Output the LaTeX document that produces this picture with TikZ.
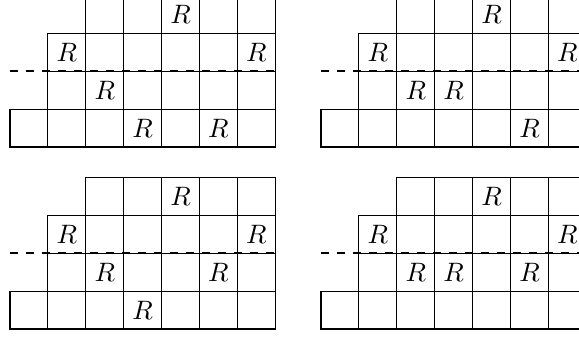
\documentclass[tikz,border=0pt]{standalone}
\tikzset{
  cell/.style={draw, line width=0.4pt},
  cutline/.style={thick, dashed},
  rmark/.style={inner sep=0pt, font=\normalsize},
}
\newcommand{\skewdiagram}[3]{%
  \begin{scope}[shift={#2}]
    \foreach \cx in {0,...,6} \draw[cell] (\cx,0) rectangle ++(1,1);
    \foreach \cy in {1,2} \foreach \cx in {1,...,6} \draw[cell] (\cx,\cy) rectangle ++(1,1);
    \foreach \cx in {2,...,6} \draw[cell] (\cx,3) rectangle ++(1,1);
    \coordinate (#1-cutL) at (0,2);
    \coordinate (#1-cutR) at (7,2);
    \draw[cutline] (#1-cutL) -- (#1-cutR);
    \foreach \c/\r in {#3}
      \node[rmark] (#1-R-\c-\r) at ({\c-0.5},{4.5-\r}) {$R$};
  \end{scope}}
\begin{document}
\begin{tikzpicture}[x=0.5cm,y=0.5cm]
\useasboundingbox (-0.264,-0.211) rectangle (15.013,8.681);
\clip (-0.264,-0.211) rectangle (15.013,8.681);
\skewdiagram{tl}{(0,4.802)}{5/1,2/2,7/2,3/3,4/4,6/4}
\skewdiagram{tr}{(8.206,4.802)}{5/1,2/2,7/2,3/3,4/3,6/4}
\skewdiagram{bl}{(0,0)}{5/1,2/2,7/2,3/3,6/3,4/4}
\skewdiagram{br}{(8.206,0)}{5/1,2/2,7/2,3/3,4/3,6/3}
\end{tikzpicture}
\end{document}
